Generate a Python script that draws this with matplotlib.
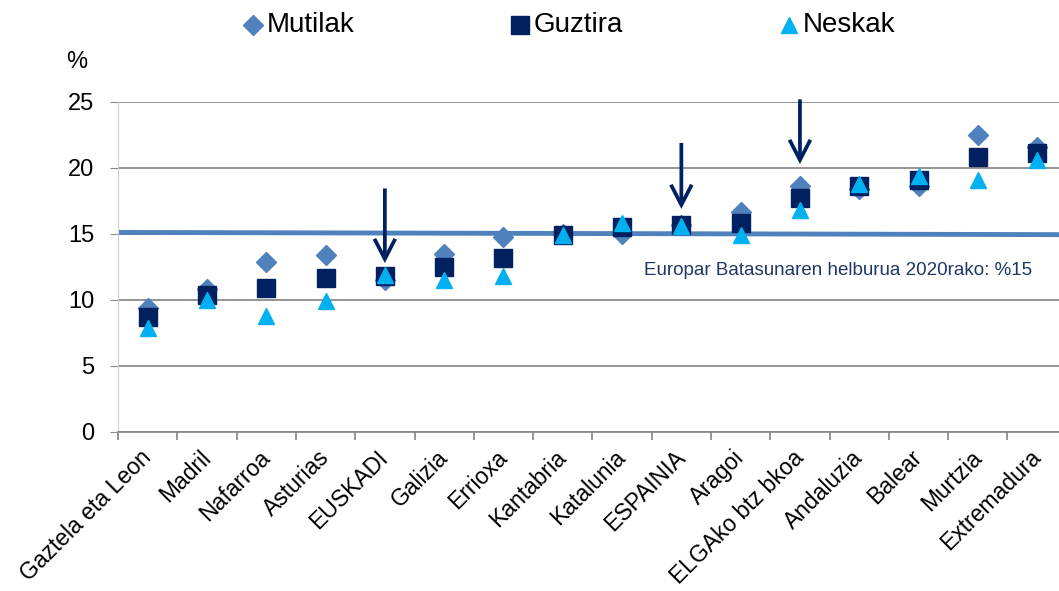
import matplotlib
matplotlib.use("Agg")
import matplotlib.pyplot as plt
from matplotlib.lines import Line2D
from matplotlib.transforms import ScaledTranslation

categories = ["Gaztela eta Leon", "Madril", "Nafarroa", "Asturias", "EUSKADI", "Galizia",
              "Errioxa", "Kantabria", "Katalunia", "ESPAINIA", "Aragoi", "ELGAko btz bkoa",
              "Andaluzia", "Balear", "Murtzia", "Extremadura"]
mutilak = [9.4, 10.8, 12.9, 13.4, 11.5, 13.5, 14.75, 15.0, 15.0, 15.7, 16.7, 18.6, 18.4, 18.6, 22.5, 21.6]
guztira = [8.7, 10.4, 10.9, 11.7, 11.8, 12.5, 13.2, 14.95, 15.5, 15.7, 15.8, 17.7, 18.6, 19.1, 20.85, 21.1]
neskak = [7.9, 10.0, 8.8, 9.9, 11.9, 11.5, 11.8, 14.95, 15.8, 15.6, 14.95, 16.8, 18.75, 19.4, 19.1, 20.6]
series_names = ["Mutilak", "Guztira", "Neskak"]
target = 15
target_label = "Europar Batasunaren helburua 2020rako: %15"
arrow_idx = [4, 9, 11]
arrow_tops = [18.45, 21.9, 25.2]
arrow_tips = [12.8, 16.9, 20.3]

c_mut = "#4F81BD"
c_guz = "#002060"
c_nes = "#00B0F0"
FAM = ['Liberation Sans', 'DejaVu Sans']
plt.rcParams['font.family'] = FAM

fig = plt.figure(figsize=(10.59, 5.91), dpi=100)
ax = fig.add_axes([118/1059, 1-432/591, (16*59.3)/1059, 330/591])

x = list(range(len(categories)))
ax.set_xlim(-0.5, len(categories)-0.5)
ax.set_ylim(0, 25)
ax.set_yticks([0, 5, 10, 15, 20, 25])
ax.yaxis.grid(True, color="#8c8c8c", linewidth=1.3)
ax.set_axisbelow(True)
for s in ["top", "right"]:
    ax.spines[s].set_visible(False)
ax.spines["left"].set_color("#d0d0d0")
ax.spines["bottom"].set_color("#8c8c8c")
ax.spines["bottom"].set_linewidth(1.3)

ax.plot(x, mutilak, linestyle="none", marker="D", markersize=10, color=c_mut, zorder=3)
ax.plot(x, guztira, linestyle="none", marker="s", markersize=12.5, color=c_guz, zorder=4)
ax.plot(x, neskak, linestyle="none", marker="^", markersize=12, color=c_nes, zorder=5)

ax.plot([-0.5, len(categories)-0.5], [target+0.12, target-0.05], color=c_mut, linewidth=3.5, zorder=2.5)
ax.text(11.64, 12.23, target_label, color="#1F3864", fontsize=13.5, ha="center", va="center")

for i, top, tip in zip(arrow_idx, arrow_tops, arrow_tips):
    ax.annotate("", xy=(i, tip), xytext=(i, top),
                arrowprops=dict(arrowstyle="->,head_length=1.45,head_width=0.75", color=c_guz, lw=2.7,
                                shrinkA=0, shrinkB=0, joinstyle="miter", capstyle="butt"),
                annotation_clip=False, zorder=6)

ax.set_xticks([i - 0.5 for i in range(len(categories)+1)])
ax.set_xticklabels([])
ax.set_xticks(x, minor=True)
ax.set_xticklabels(categories, minor=True, rotation=45, ha="right", va="top",
                   rotation_mode="anchor", fontsize=16.5)
ax.tick_params(axis="x", which="major", length=6, color="#8c8c8c", width=1.3, direction="out")
ax.tick_params(axis="x", which="minor", length=0, pad=10)
ax.tick_params(axis="y", length=6, color="#8c8c8c", labelsize=17, pad=11)
shift = ScaledTranslation(-8/100, 0, fig.dpi_scale_trans)
for lbl in ax.get_xticklabels(minor=True):
    lbl.set_transform(lbl.get_transform() + shift)

fig.text(77/1059, 1-62/591, "%", fontsize=17, ha="center", va="center")

# legend (manual placement)
leg_y = 1 - 25/591
leg_items = [(253, "D", 10, c_mut), (520, "s", 12.5, c_guz), (789, "^", 12, c_nes)]
for (px, mk, ms, col), name in zip(leg_items, series_names):
    fig.add_artist(Line2D([px/1059], [leg_y], transform=fig.transFigure, linestyle="none",
                          marker=mk, markersize=ms, color=col))
    fig.text((px + 14)/1059, leg_y, name, fontsize=20, ha="left", va="center")

fig.savefig("out.png", dpi=100)
